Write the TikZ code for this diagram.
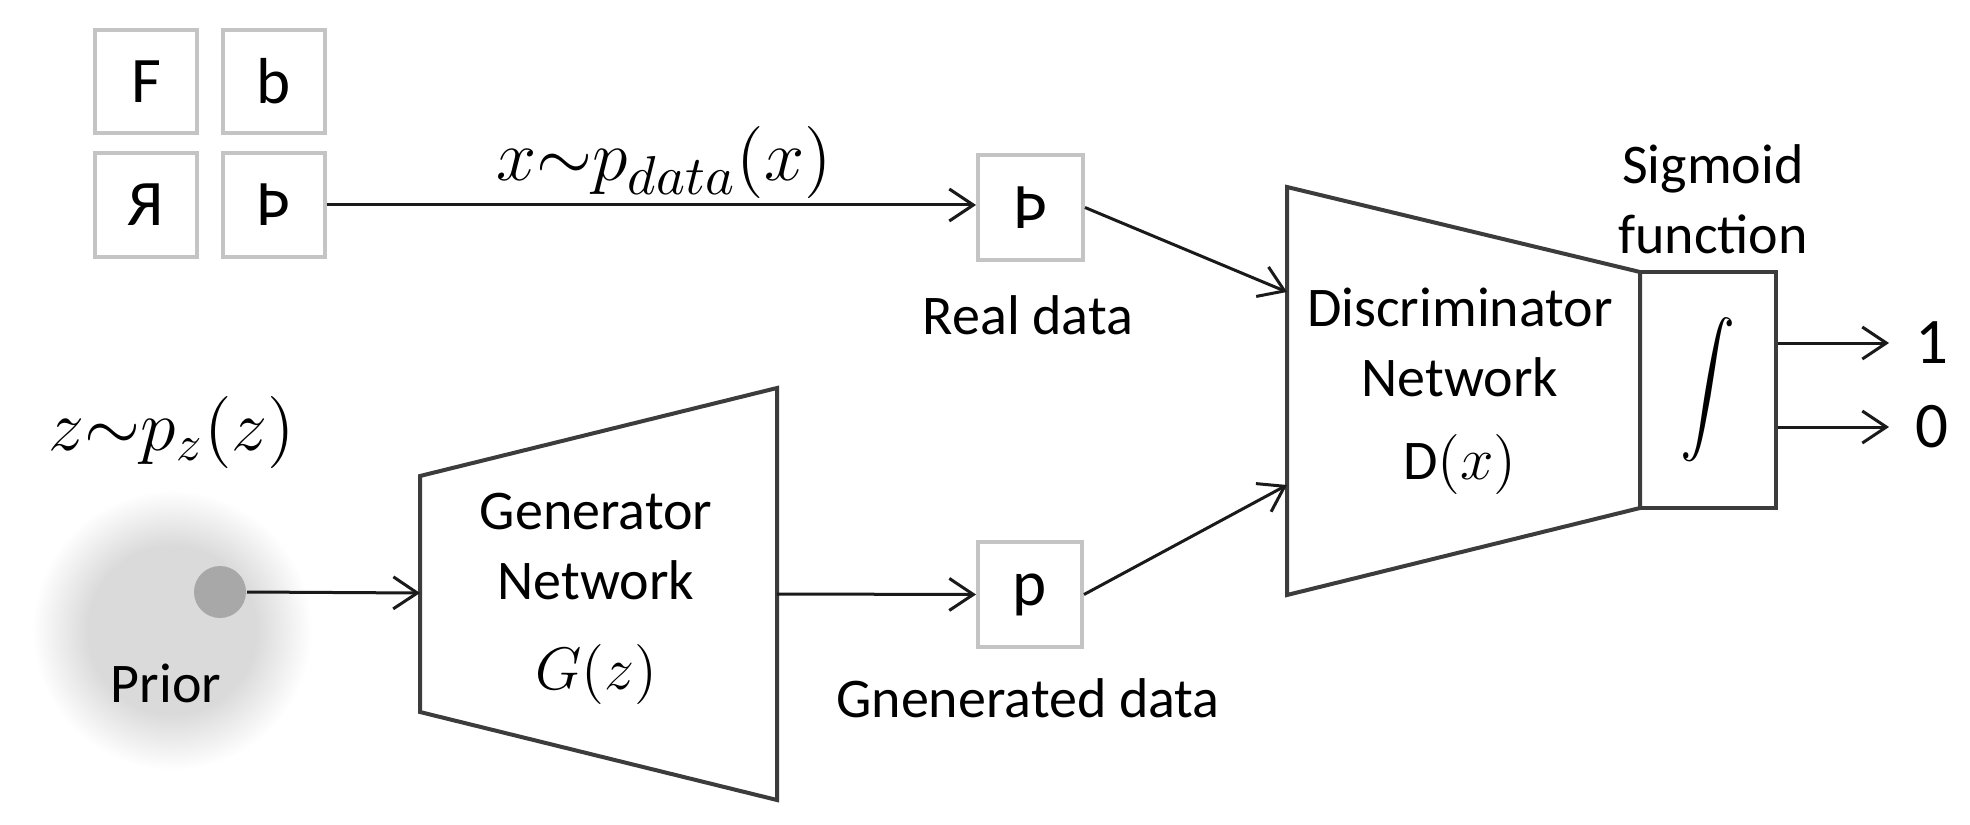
\documentclass[tikz,border=0pt]{standalone}
\usepackage{fontspec}
\setmainfont{Carlito}
\usetikzlibrary{arrows.meta}
\definecolor{netgray}{HTML}{3C3C3C}
\definecolor{boxgray}{HTML}{C4C4C4}
\definecolor{blobcore}{HTML}{DADADA}
\definecolor{dotgray}{HTML}{A8A8A8}
\definecolor{arrowblack}{HTML}{1A1A1A}
\pgfdeclareradialshading{priorblob}{\pgfpoint{0bp}{0bp}}{color(0bp)=(blobcore); color(15bp)=(blobcore); color(25bp)=(white); color(50bp)=(white)}
\begin{document}
\begin{tikzpicture}[x=0.2pt,y=-0.2pt,
  glyphbox/.style={draw=boxgray, line width=0.8pt, minimum width=20.4pt, minimum height=20.6pt, inner sep=0pt, font=\fontsize{13}{15}\selectfont},
  lbl/.style={font=\fontsize{11.2}{14}\selectfont, align=center, inner sep=0pt},
  mathlbl/.style={font=\fontsize{14.5}{16}\selectfont, inner sep=0pt},
  net/.style={draw=netgray, line width=0.8pt, line join=miter},
  conn/.style={draw=arrowblack, line width=0.6pt, -{Straight Barb[length=4.8pt,width=6.4pt]}},
  outlbl/.style={font=\fontsize{13}{15}\selectfont, inner sep=0pt, anchor=west}]
\useasboundingbox (0,0) rectangle (1970,825);
% prior blob
\shade[shading=priorblob] (172,630) circle (140);
\node[circle, fill=dotgray, minimum size=10.4pt, inner sep=0pt] (dot) at (220,592) {};
\node[lbl] (prior) at (166,683) {Prior};
\node[mathlbl] (zdist) at (172,432) {$z{\sim}p_z(z)$};
% real samples
\node[glyphbox] (g1) at (146,81.5) {F};
\node[glyphbox] (g2) at (273.5,81.5) {b};
\node[glyphbox] (g3) at (146,205) {Я};
\node[glyphbox] (g4) at (273.5,205) {Þ};
\node[mathlbl, font=\fontsize{15.5}{17}\selectfont] (xdist) at (664,163) {$x{\sim}p_{data}(x)$};
\node[glyphbox, minimum width=21pt, minimum height=21pt] (real) at (1030.5,207.5) {Þ};
\node[lbl] (reallbl) at (1028,315) {Real data};
% generator
\draw[net] (420,476) -- (777,388) -- (777,800) -- (420,712) -- cycle;
\coordinate (genin) at (420,593);
\coordinate (genout) at (777,594);
\node[lbl] (gentxt) at (596,599) {Generator\\Network\\[4pt]{\fontsize{13}{14}\selectfont$G(z)$}};
\node[glyphbox, minimum width=20.8pt, minimum height=21pt] (gen) at (1030,594.5) {p};
\node[lbl] (genlbl) at (1028,698) {Gnenerated data};
% discriminator
\draw[net] (1287,187) -- (1640,272) -- (1640,508) -- (1287,595) -- cycle;
\coordinate (discin1) at (1287,292);
\coordinate (discin2) at (1287,485);
\node[lbl] (disctxt) at (1460,391) {Discriminator\\Network\\[2.6pt]D{\fontsize{13}{14}\selectfont$(x)$}};
\node[net, minimum width=27.2pt, minimum height=47.2pt, inner sep=0pt, font=\fontsize{13}{15}\selectfont] (sig) at (1708,390) {\scalebox{1.1}[1.3]{$\displaystyle\int$}};
\node[lbl] (siglbl) at (1713,199) {Sigmoid\\function};
\node[outlbl] (one) at (1914,343) {1};
\node[outlbl] (zero) at (1914,427) {0};
% connectors
\draw[conn] (g4.east) -- (g4.east -| real.west);
\draw[conn] (dot.east) -- (genin);
\draw[conn] (genout) -- (gen.west);
\draw[conn] (real.east) -- (discin1);
\draw[conn] (gen.east) -- (discin2);
\draw[conn] (sig.east |- one.west) -- ([xshift=-5pt]one.west);
\draw[conn] (sig.east |- zero.west) -- ([xshift=-5pt]zero.west);
\end{tikzpicture}
\end{document}
